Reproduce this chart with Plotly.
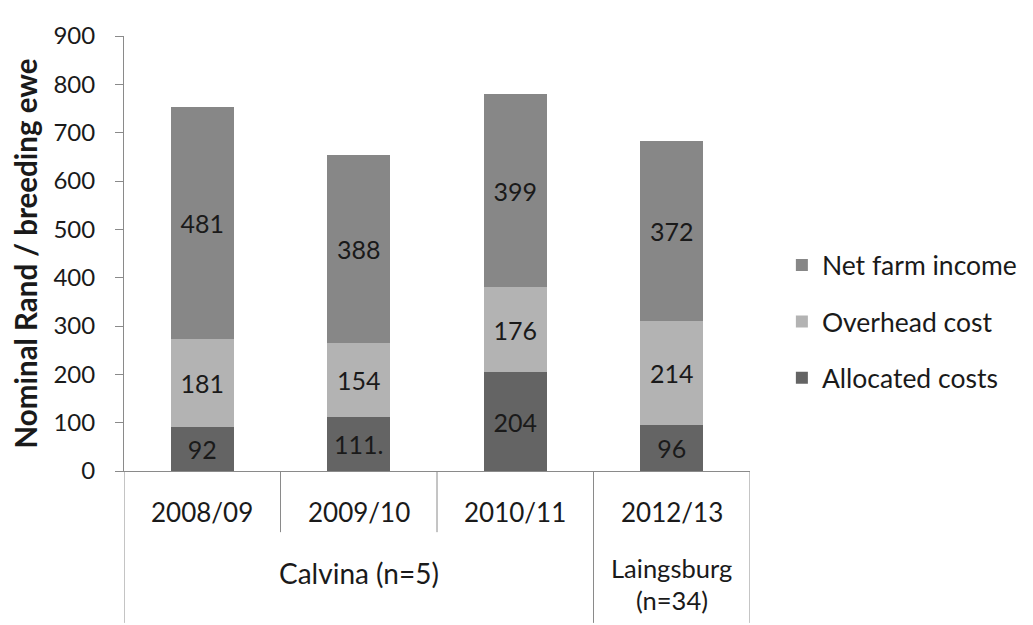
import plotly.graph_objects as go

categories = ["2008/09", "2009/10", "2010/11", "2012/13"]
groups = ["Calvina (n=5)", "Laingsburg<br>(n=34)"]
group_spans = [(0, 2), (3, 3)]

allocated = [92, 111, 204, 96]
allocated_labels = ["92", "111.", "204", "96"]
overhead = [181, 154, 176, 214]
net_income = [481, 388, 399, 372]

FONT = "Lato"
TXT = "#1a1a1a"
AX = "#8a8a8a"

# page body has an 8px margin, so the figure is drawn 8px in from the window
W, H = 1025, 617
ML, MT = 116, 22
PW, PH = 626, 441

fig = go.Figure()
fig.add_trace(go.Bar(name="Allocated costs", x=categories, y=allocated,
                     text=allocated_labels, marker_color="#646464",
                     legendgroup="a", legendrank=3))
fig.add_trace(go.Bar(name="Overhead cost", x=categories, y=overhead,
                     text=[str(v) for v in overhead], marker_color="#b3b3b3",
                     legendgroup="b", legendrank=2))
fig.add_trace(go.Bar(name="Net farm income", x=categories, y=net_income,
                     text=[str(v) for v in net_income], marker_color="#878787",
                     legendgroup="c", legendrank=1))
fig.update_traces(textposition="inside", insidetextanchor="middle",
                  textangle=0, constraintext="none",
                  textfont=dict(family=FONT, size=25, color=TXT),
                  marker_line_width=0)

fig.update_layout(
    width=W, height=H,
    barmode="stack", bargap=0.6,
    plot_bgcolor="white", paper_bgcolor="white",
    margin=dict(l=ML, r=W - ML - PW, t=MT, b=H - MT - PH),
    font=dict(family=FONT, size=24, color=TXT),
    legend=dict(xref="container", yref="container", x=0.755, y=0.622,
                xanchor="left", yanchor="top",
                traceorder="grouped", tracegroupgap=19,
                font=dict(family=FONT, size=26.5, color=TXT),
                itemwidth=30),
    showlegend=True,
)
fig.update_yaxes(range=[0, 900], dtick=100, showgrid=False, zeroline=False,
                 showline=True, linecolor=AX, linewidth=1,
                 ticks="outside", ticklen=8, tickcolor=AX,
                 ticklabelstandoff=15,
                 tickfont=dict(family=FONT, size=24, color=TXT),
                 title=dict(text="<b>Nominal Rand / breeding ewe</b>",
                            font=dict(family=FONT, size=29.5, color=TXT),
                            standoff=11))
fig.update_xaxes(showticklabels=False, showline=True, linecolor=AX,
                 linewidth=1, ticks="", showgrid=False,
                 range=[-0.5, len(categories) - 0.5])

lvl1 = -62 / PH
full = -(H - MT - PH) / PH

# first-level labels
for c in categories:
    fig.add_annotation(x=c, y=-42 / PH, xref="x", yref="paper",
                       text=c, showarrow=False, yanchor="middle",
                       font=dict(family=FONT, size=26, color=TXT))
# group labels (wrapped lines placed one below the other)
for g, (a, b) in zip(groups, group_spans):
    lines = g.split("<br>")
    if len(lines) == 1:
        offsets, size = [-103], 28
    else:
        offsets, size = [-98, -131], 25.5
    for line, off in zip(lines, offsets):
        fig.add_annotation(x=(a + b) / 2, y=off / PH, xref="x",
                           yref="paper", text=line, showarrow=False,
                           yanchor="middle",
                           font=dict(family=FONT, size=size, color=TXT))

# dividers between categories
for i in range(len(categories) + 1):
    xpos = i - 0.5
    is_group_edge = xpos in (-0.5, 2.5, 3.5)
    fig.add_shape(type="line", xref="x", yref="paper",
                  x0=xpos, x1=xpos, y0=0, y1=full if is_group_edge else lvl1,
                  line=dict(color=AX, width=1))

fig.write_html("out.html")
